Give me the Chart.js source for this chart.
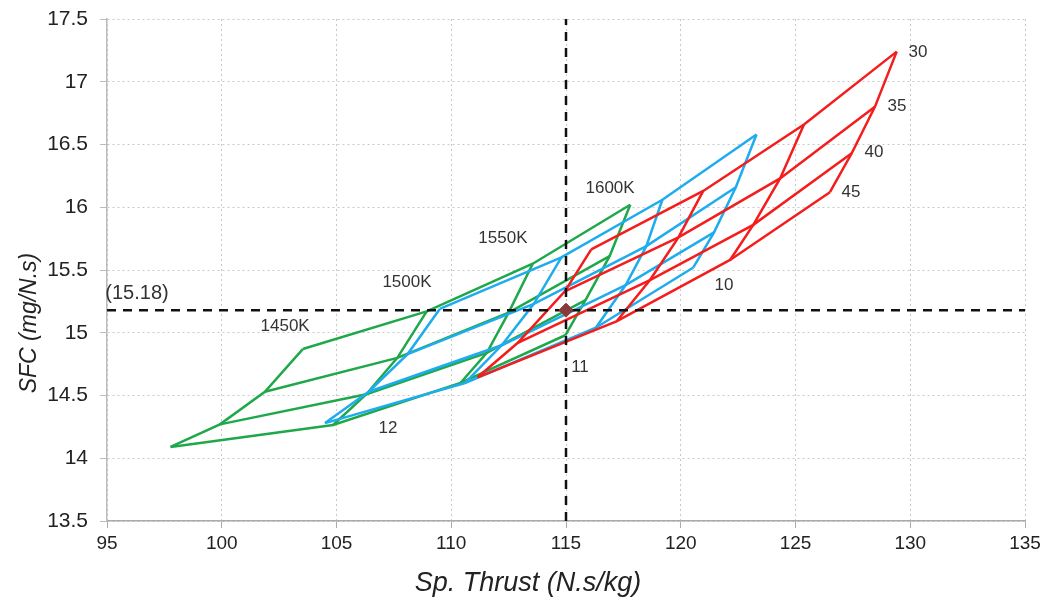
<!DOCTYPE html>
<html>
<head>
<meta charset="utf-8">
<title>SFC vs Specific Thrust carpet</title>
<script src="https://cdn.jsdelivr.net/npm/chart.js@4.4.1/dist/chart.umd.min.js"></script>
<style>
  html, body { margin: 0; padding: 0; background: #fff; }
  #wrap { width: 1048px; height: 603px; }
</style>
</head>
<body>
<div id="wrap"><canvas id="carpetChart" width="1048" height="603"></canvas></div>
<script>
// Turbine inlet temperatures (rows) and bypass ratios (columns)
const titLevels = [1450, 1500, 1550, 1600];
const bprLevels = [30, 35, 40, 45];

// Fan pressure ratio 12 (green)
const thrust12 = [
    [103.53, 101.88, 99.92, 97.77],
    [108.93, 107.65, 106.30, 104.85],
    [113.55, 112.50, 111.55, 110.40],
    [117.80, 116.90, 115.85, 114.97]
];
const sfc12 = [
    [14.87, 14.53, 14.27, 14.09],
    [15.17, 14.80, 14.51, 14.265],
    [15.55, 15.16, 14.84, 14.60],
    [16.02, 15.61, 15.26, 14.98]
];

// Fan pressure ratio 11 (blue)
const thrust11 = [
    [109.50, 108.10, 106.40, 104.50],
    [114.80, 113.60, 112.20, 110.60],
    [119.20, 118.50, 117.60, 116.30],
    [123.30, 122.40, 121.45, 120.55]
];
const sfc11 = [
    [15.19, 14.83, 14.53, 14.28],
    [15.60, 15.23, 14.90, 14.60],
    [16.06, 15.69, 15.38, 15.04],
    [16.58, 16.16, 15.80, 15.52]
];

// Fan pressure ratio 10 (red)
const thrust10 = [
    [116.10, 114.95, 112.90, 111.15],
    [120.98, 119.90, 118.66, 117.20],
    [125.37, 124.33, 123.16, 122.15],
    [129.41, 128.46, 127.45, 126.50]
];
const sfc10 = [
    [15.665, 15.33, 14.92, 14.645],
    [16.13, 15.76, 15.42, 15.09],
    [16.66, 16.23, 15.86, 15.58],
    [17.24, 16.80, 16.43, 16.12]
];

// Design point
const designThrust = 115;
const designSfc = 15.18;

// Axis ticks
const xTicks = [95, 100, 105, 110, 115, 120, 125, 130, 135];
const yTicks = [13.5, 14, 14.5, 15, 15.5, 16, 16.5, 17, 17.5];

const COLORS = { green: '#1fa84a', blue: '#1eacee', red: '#f41c1c' };

// Build constant-TIT and constant-BPR lines for one carpet
function carpetDatasets(thrust, sfc, color, order) {
    const sets = [];
    for (let i = 0; i < titLevels.length; i++) {
        sets.push({
            label: titLevels[i] + 'K',
            data: bprLevels.map((b, j) => ({ x: thrust[i][j], y: sfc[i][j] })),
            borderColor: color, borderWidth: 2.5, showLine: true,
            pointRadius: 0, tension: 0, order: order
        });
    }
    for (let j = 0; j < bprLevels.length; j++) {
        sets.push({
            label: 'BPR ' + bprLevels[j],
            data: titLevels.map((t, i) => ({ x: thrust[i][j], y: sfc[i][j] })),
            borderColor: color, borderWidth: 2.5, showLine: true,
            pointRadius: 0, tension: 0, order: order
        });
    }
    return sets;
}

// Text labels in data units
const textLabels = [
    { text: '1450K', x: 102.76, y: 15.05 },
    { text: '1500K', x: 108.07, y: 15.40 },
    { text: '1550K', x: 112.25, y: 15.755 },
    { text: '1600K', x: 116.92, y: 16.15 },
    { text: '30', x: 130.34, y: 17.237 },
    { text: '35', x: 129.42, y: 16.807 },
    { text: '40', x: 128.42, y: 16.44 },
    { text: '45', x: 127.42, y: 16.12 },
    { text: '12', x: 107.24, y: 14.24 },
    { text: '11', x: 115.61, y: 14.727 },
    { text: '10', x: 121.88, y: 15.38 }
];

// Labels, value note and axis titles drawn straight onto the canvas
const textLabelPlugin = {
    id: 'textLabels',
    afterDatasetsDraw(chart) {
        const ctx = chart.ctx;
        const xs = chart.scales.x, ys = chart.scales.y;
        ctx.save();
        ctx.font = '17px "Liberation Sans", Arial, sans-serif';
        ctx.fillStyle = '#333';
        ctx.textAlign = 'center';
        ctx.textBaseline = 'middle';
        textLabels.forEach(l => {
            ctx.fillText(l.text, xs.getPixelForValue(l.x), ys.getPixelForValue(l.y));
        });

        ctx.font = '20px "Liberation Sans", Arial, sans-serif';
        ctx.fillText('(' + designSfc + ')', 137, ys.getPixelForValue(designSfc) - 17);
        ctx.restore();
    },
    afterDraw(chart) {
        const ctx = chart.ctx;
        ctx.save();
        ctx.fillStyle = '#222';
        ctx.textAlign = 'center';
        ctx.textBaseline = 'middle';
        ctx.font = 'italic 27px "Liberation Sans", Arial, sans-serif';
        ctx.fillText('Sp. Thrust (N.s/kg)', 528, 583);
        ctx.translate(30, 323);
        ctx.rotate(-Math.PI / 2);
        ctx.font = 'italic 23px "Liberation Sans", Arial, sans-serif';
        ctx.fillText('SFC (mg/N.s)', 0, 0);
        ctx.restore();
    }
};

const datasets = [
    {
        label: 'design point',
        data: [{ x: designThrust, y: designSfc }],
        pointStyle: 'rectRot', pointRadius: 7, pointBackgroundColor: '#8b3b3b',
        pointBorderColor: '#8b3b3b', showLine: false, order: 0
    },
    {
        label: 'SFC ref',
        data: [{ x: xTicks[0], y: designSfc }, { x: xTicks[xTicks.length - 1], y: designSfc }],
        borderColor: '#111', borderWidth: 2.5, borderDash: [9, 7], showLine: true,
        pointRadius: 0, order: 1
    },
    {
        label: 'thrust ref',
        data: [{ x: designThrust, y: yTicks[0] }, { x: designThrust, y: yTicks[yTicks.length - 1] }],
        borderColor: '#111', borderWidth: 2.5, borderDash: [9, 7], showLine: true,
        pointRadius: 0, order: 1
    },
    ...carpetDatasets(thrust10, sfc10, COLORS.red, 2),
    ...carpetDatasets(thrust11, sfc11, COLORS.blue, 3),
    ...carpetDatasets(thrust12, sfc12, COLORS.green, 4)
];

new Chart(document.getElementById('carpetChart'), {
    type: 'scatter',
    data: { datasets: datasets },
    options: {
        responsive: false,
        animation: false,
        layout: { padding: { top: 19, right: 23, left: 0, bottom: 0 } },
        plugins: { legend: { display: false }, tooltip: { enabled: false } },
        scales: {
            x: {
                type: 'linear', min: 95, max: 135,
                afterBuildTicks: s => { s.ticks = xTicks.map(v => ({ value: v })); },
                afterFit: s => { s.height = 82; },
                ticks: {
                    color: '#222', padding: 4,
                    callback: v => String(v),
                    font: { family: '"Liberation Sans", Arial', size: 19 }
                },
                grid: { color: '#c8c8c8', tickLength: 7, tickBorderDash: [], tickColor: '#aaa' },
                border: { color: '#aaa', width: 1.5, dash: [2, 3] }
            },
            y: {
                type: 'linear', min: 13.5, max: 17.5,
                afterBuildTicks: s => { s.ticks = yTicks.map(v => ({ value: v })); },
                afterFit: s => { s.width = 107; },
                ticks: {
                    color: '#222', padding: 12,
                    callback: v => String(v),
                    font: { family: '"Liberation Sans", Arial', size: 21, lineHeight: 0.6 }
                },
                grid: { color: '#c8c8c8', tickLength: 7, tickBorderDash: [], tickColor: '#bbb' },
                border: { color: '#bbb', width: 1.5, dash: [2, 3] }
            }
        }
    },
    plugins: [textLabelPlugin]
});
</script>
</body>
</html>
